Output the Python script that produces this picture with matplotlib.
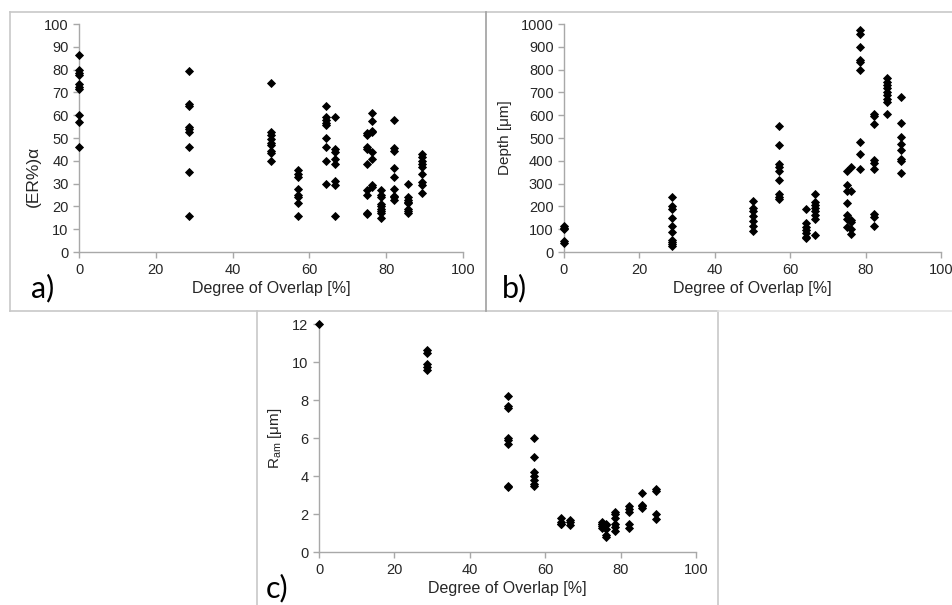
import matplotlib
matplotlib.use("Agg")
import matplotlib.pyplot as plt
from matplotlib.lines import Line2D

plt.rcParams["font.family"] = ["Liberation Sans", "DejaVu Sans"]

# Overlap-Stufen (x) fuer alle drei Diagramme
overlap = [0, 28.6, 50, 57.1, 64.3, 66.7, 75, 76.2, 78.6, 82.1, 85.7, 89.3]

# a) (ER%)alpha
er_alpha = [
    [86.5, 80, 78.5, 77.5, 73.5, 72.5, 71.5, 60, 57, 46],
    [79.5, 65, 64, 55, 54, 52.5, 46, 35, 16],
    [74, 52.5, 51.5, 49.5, 48, 47, 44.5, 43.5, 40],
    [36, 34, 33, 27.5, 25, 24, 21.5, 16],
    [64, 59, 58, 56.5, 55.5, 50, 46, 40, 30],
    [59, 45, 44, 41, 38.5, 31, 29.5, 16],
    [52, 51.5, 46, 45, 38.5, 27, 25, 17, 16.5],
    [61, 57.5, 53, 52.5, 44, 41, 29.5, 28.5],
    [27, 25, 24, 21, 20, 19, 18, 17, 15],
    [58, 45.5, 44.5, 37, 33, 27.5, 24, 23, 24.5],
    [30, 24, 23, 22, 21.5, 19, 18, 17],
    [43, 41.5, 40, 38.5, 37.5, 34, 30.5, 29.5, 26],
]

# b) Tiefe in um
depth = [
    [115, 100, 105, 48, 40],
    [242, 200, 190, 150, 113, 87, 54, 44, 34, 25],
    [222, 195, 180, 160, 136, 113, 90],
    [552, 468, 385, 373, 356, 315, 254, 242, 232],
    [190, 128, 110, 96, 85, 67, 62],
    [254, 220, 206, 192, 178, 163, 143, 76],
    [355, 293, 268, 213, 162, 145, 108],
    [375, 268, 140, 130, 103, 80],
    [972, 955, 900, 843, 835, 797, 484, 428, 365],
    [605, 595, 562, 405, 390, 365, 165, 152, 113],
    [763, 747, 733, 718, 703, 689, 672, 660, 605],
    [682, 567, 505, 472, 448, 408, 398, 348],
]

# c) Rauheit R_am in um
r_am = [
    [12.0],
    [10.65, 10.45, 9.9, 9.75, 9.6],
    [8.2, 7.7, 7.6, 6.0, 5.9, 5.7, 3.5, 3.4],
    [6.0, 5.0, 4.2, 4.0, 3.8, 3.6, 3.45],
    [1.8, 1.6, 1.5, 1.45],
    [1.7, 1.6, 1.4],
    [1.6, 1.5, 1.45, 1.35, 1.25],
    [1.5, 1.4, 1.2, 0.9, 0.8],
    [2.1, 2.0, 1.8, 1.5, 1.3, 1.1],
    [2.4, 2.25, 2.1, 1.5, 1.25],
    [3.1, 2.5, 2.4, 2.3],
    [3.3, 3.2, 2.0, 1.75],
]

W, H = 952, 605
fig = plt.figure(figsize=(W / 100, H / 100), dpi=100)


def px_axes(x0, y0, x1, y1):
    # Pixelkoordinaten (oben links) -> Figurenanteile
    return fig.add_axes([x0 / W, 1 - y1 / H, (x1 - x0) / W, (y1 - y0) / H])


def frame_line(x0, y0, x1, y1, color="#c8c8c8"):
    fig.add_artist(Line2D([x0 / W, x1 / W], [1 - y0 / H, 1 - y1 / H],
                          color=color, lw=1.2))


def scatter_panel(ax, columns, ylim, yticks, ylabel, tag, tag_x, ylabel_size=11):
    xs = []
    ys = []
    for x, werte in zip(overlap, columns):
        for v in werte:
            xs.append(x)
            ys.append(v)
    ax.plot(xs, ys, linestyle="none", marker="D", ms=3.8,
            color="black", markeredgewidth=0.6, clip_on=False, zorder=5)
    ax.set_xlim(0, 100)
    ax.set_ylim(*ylim)
    ax.set_xticks([0, 20, 40, 60, 80, 100])
    ax.set_yticks(yticks)
    for s in ["top", "right"]:
        ax.spines[s].set_visible(False)
    for s in ["left", "bottom"]:
        ax.spines[s].set_color("#a8a8a8")
        ax.spines[s].set_linewidth(1.0)
    ax.tick_params(axis="both", colors="#a8a8a8", labelcolor="#262626",
                   labelsize=10.5, length=4, width=1.0, direction="out")
    ax.tick_params(axis="x", pad=4)
    ax.set_xlabel("Degree of Overlap [%]", fontsize=11.5, color="#262626",
                  labelpad=3)
    ax.set_ylabel(ylabel, fontsize=ylabel_size, color="#262626", labelpad=6)
    ax.text(tag_x, -0.16, tag, transform=ax.transAxes, fontsize=22,
            family=["Lato", "DejaVu Sans"], ha="left", va="center")
    ax.set_facecolor("none")


ax_a = px_axes(79, 24, 463, 252)
scatter_panel(ax_a, er_alpha, (0, 100), range(0, 101, 10), "(ER%)α", "a)", -0.125,
              ylabel_size=12.5)
# im Original sitzt die y-Beschriftung etwas tiefer
ax_a.yaxis.set_label_coords(-0.10, 0.33)

ax_b = px_axes(564, 24, 941, 252)
scatter_panel(ax_b, depth, (0, 1000), range(0, 1001, 100), "Depth [μm]", "b)", -0.165)

ax_c = px_axes(319, 324, 696, 552)
scatter_panel(ax_c, r_am, (0, 12), range(0, 13, 2), r"R$_{\mathregular{am}}$ [μm]", "c)", -0.14)

# Rahmen um die Teilbilder
frame_line(10, 12, 952, 12)
frame_line(10, 12, 10, 311)
frame_line(10, 311, 718, 311)
frame_line(486, 12, 486, 311, color="#a0a0a0")
frame_line(257, 311, 257, 605)
frame_line(718, 311, 718, 605)
frame_line(718, 311, 952, 311, color="#e4e4e4")

plt.savefig("out.png", dpi=100)
